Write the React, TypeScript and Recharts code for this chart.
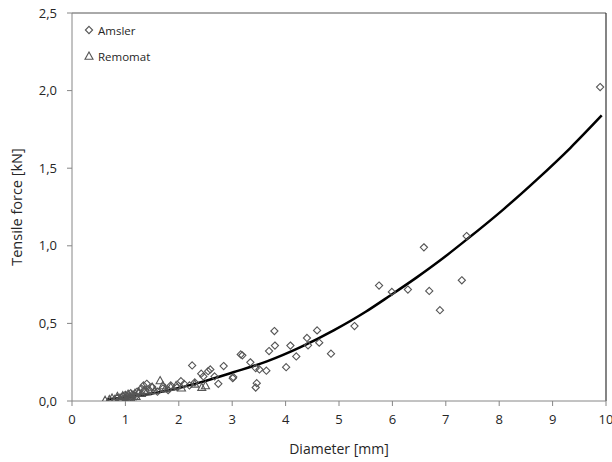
import React from "react";
import {
  ComposedChart,
  Scatter,
  Line,
  XAxis,
  YAxis,
  ReferenceLine,
  Label,
} from "recharts";

// Diameter [mm] / tensile force [kN] measurements, Amsler machine
const amslerX = [
  0.85, 0.9, 0.95, 1.0, 1.0, 1.05, 1.08, 1.1, 1.12, 1.15, 1.2, 1.22, 1.25, 1.3, 1.34,
  1.4, 1.45, 1.5, 1.6, 1.7, 1.8, 1.85, 1.97, 2.04, 2.1, 2.2, 2.25, 2.3, 2.42, 2.46,
  2.55, 2.59, 2.67, 2.74, 2.84, 3.01, 3.02, 3.16, 3.19, 3.34, 3.44, 3.44, 3.46, 3.51,
  3.64, 3.69, 3.79, 3.8, 4.01, 4.09, 4.2, 4.4, 4.42, 4.59, 4.63, 4.85, 5.29, 5.75,
  5.99, 6.29, 6.59, 6.69, 6.89, 7.3, 7.39, 9.89,
];
const amslerY = [
  0.02, 0.01, 0.03, 0.02, 0.04, 0.01, 0.03, 0.05, 0.02, 0.04, 0.03, 0.06, 0.05, 0.08, 0.1,
  0.111, 0.07, 0.09, 0.06, 0.08, 0.07, 0.1, 0.089, 0.128, 0.11, 0.1, 0.229, 0.12, 0.176, 0.158,
  0.192, 0.203, 0.158, 0.111, 0.225, 0.147, 0.154, 0.3, 0.294, 0.249, 0.212, 0.087, 0.115, 0.203,
  0.195, 0.322, 0.451, 0.357, 0.218, 0.357, 0.287, 0.406, 0.359, 0.455, 0.376, 0.305, 0.483, 0.744,
  0.703, 0.718, 0.99, 0.709, 0.585, 0.778, 1.063, 2.023,
];

// Remomat machine
const remomatX = [
  0.62, 0.7, 0.75, 0.8, 0.85, 0.9, 0.95, 1.0, 1.0, 1.05, 1.1, 1.12, 1.18, 1.2, 1.25,
  1.3, 1.35, 1.4, 1.5, 1.55, 1.65, 1.7, 1.75, 1.85, 1.95, 2.05, 2.3, 2.43, 2.5,
];
const remomatY = [
  0.005, 0.01, 0.02, 0.01, 0.03, 0.02, 0.035, 0.01, 0.03, 0.045, 0.02, 0.04, 0.05, 0.03, 0.06,
  0.05, 0.07, 0.06, 0.09, 0.07, 0.132, 0.1, 0.08, 0.09, 0.1, 0.085, 0.11, 0.089, 0.1,
];

// Fitted trend curve
const trendX = [0.65, 1.0, 1.5, 2.0, 2.4, 3.02, 3.65, 4.27, 4.9, 5.5, 5.96, 6.45, 6.89, 7.39, 8.08, 8.7, 9.33, 9.92];
const trendY = [0.01, 0.022, 0.048, 0.084, 0.12, 0.185, 0.255, 0.345, 0.455, 0.575, 0.68, 0.795, 0.905, 1.04, 1.235, 1.425, 1.63, 1.84];

const xTicks = [0, 1, 2, 3, 4, 5, 6, 7, 8, 9, 10];
const yTicks = [0, 0.5, 1.0, 1.5, 2.0, 2.5];

const amsler = amslerX.map((x, i) => ({ x, y: amslerY[i] }));
const remomat = remomatX.map((x, i) => ({ x, y: remomatY[i] }));
const trend = trendX.map((x, i) => ({ x, y: trendY[i] }));

const FONT = "'Open Sans', sans-serif";
const MARK = "#555555";
const AXIS = "#868686";
const TEXT = "#262626";

const Diamond = (props: any) => {
  const { cx, cy } = props;
  const r = 3.6;
  return (
    <path
      d={`M${cx},${cy - r}L${cx + r},${cy}L${cx},${cy + r}L${cx - r},${cy}Z`}
      fill="none"
      stroke={MARK}
      strokeWidth={1.1}
    />
  );
};

const Triangle = (props: any) => {
  const { cx, cy } = props;
  const r = 4;
  return (
    <path
      d={`M${cx},${cy - r}L${cx + r},${cy + r * 0.8}L${cx - r},${cy + r * 0.8}Z`}
      fill="none"
      stroke={MARK}
      strokeWidth={1.1}
    />
  );
};

const fmt = (v: number) => v.toFixed(1).replace(".", ",");

const legendItems = [
  { name: "Amsler", Icon: Diamond },
  { name: "Remomat", Icon: Triangle },
];

export default function App() {
  return (
    <div style={{ position: "absolute", left: 0, top: 0, width: 612, height: 462, background: "#fff" }}>
      <ComposedChart
        width={612}
        height={462}
        margin={{ top: 13, right: 6, bottom: 0, left: 0 }}
      >
        <XAxis
          type="number"
          dataKey="x"
          domain={[0, 10]}
          ticks={xTicks}
          interval={0}
          allowDataOverflow
          height={61}
          stroke={AXIS}
          tickSize={5}
          tick={{ fill: TEXT, fontSize: 13, fontFamily: FONT, dy: 7 }}
        >
          <Label
            value="Diameter [mm]"
            position="insideBottom"
            offset={8}
            style={{ fill: TEXT, fontSize: 14, fontFamily: FONT }}
          />
        </XAxis>
        <YAxis
          type="number"
          dataKey="y"
          domain={[0, 2.5]}
          ticks={yTicks}
          interval={0}
          allowDataOverflow
          width={72}
          stroke={AXIS}
          tickSize={5}
          tickFormatter={fmt}
          tick={{ fill: TEXT, fontSize: 13, fontFamily: FONT, dx: -8 }}
        >
          <Label
            value="Tensile force [kN]"
            angle={-90}
            position="insideLeft"
            offset={17}
            style={{ textAnchor: "middle", fill: TEXT, fontSize: 14.5, fontFamily: FONT }}
          />
        </YAxis>
        <ReferenceLine y={2.5} stroke="#555" strokeWidth={1} />
        <ReferenceLine x={10} stroke="#333" strokeWidth={1.2} />
        <Scatter
          name="Amsler"
          data={amsler}
          dataKey="y"
          shape={<Diamond />}
          isAnimationActive={false}
        />
        <Scatter
          name="Remomat"
          data={remomat}
          dataKey="y"
          shape={<Triangle />}
          isAnimationActive={false}
        />
        <Line
          data={trend}
          dataKey="y"
          type="monotone"
          stroke="#000"
          strokeWidth={2.5}
          dot={false}
          activeDot={false}
          isAnimationActive={false}
        />
      </ComposedChart>
      <div
        style={{
          position: "absolute",
          left: 84,
          top: 17,
          fontFamily: FONT,
          fontSize: 11.5,
          color: TEXT,
        }}
      >
        {legendItems.map(({ name, Icon }) => (
          <div key={name} style={{ display: "flex", alignItems: "center", height: 26 }}>
            <svg width={10} height={10} style={{ marginRight: 4 }}>
              <Icon cx={5} cy={5} />
            </svg>
            {name}
          </div>
        ))}
      </div>
    </div>
  );
}
